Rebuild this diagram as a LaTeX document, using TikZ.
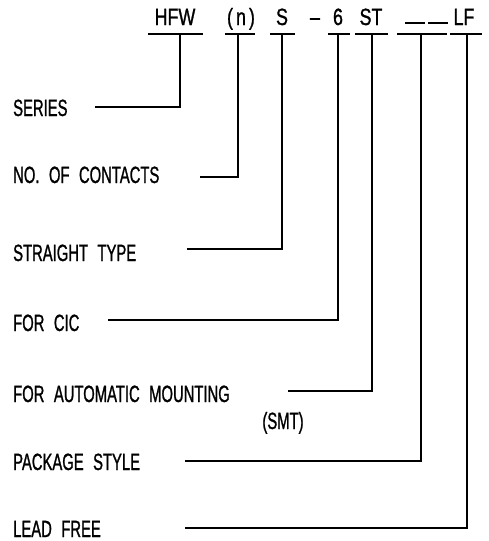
\documentclass[tikz,border=0pt]{standalone}
\usepackage{fontspec}
\newfontfamily\cad[FakeStretch=0.63,WordSpace=2.3,FakeBold=1]{Liberation Sans}
\newfontfamily\cadtop[FakeStretch=0.76,FakeBold=1]{Liberation Sans}
\begin{document}
\begin{tikzpicture}[x=1pt,y=-1pt,
  lbl/.style={anchor=base west,inner sep=0pt,font=\cad\fontsize{23.5}{25}\selectfont},
  code/.style={anchor=base,inner sep=0pt,font=\cadtop\fontsize{23.5}{25}\selectfont},
  ln/.style={line width=1.1pt}]
\useasboundingbox (0,0) rectangle (488,541);
% code row
\node[code] (hfw) at (175,25) {HFW};
\node[code] (n) at (241,25) {(\kern3pt n\kern3pt)};
\node[code] (s) at (282,25) {S};
\node[code] (dash) at (315,25) {–};
\node[code] (six) at (338,25) {6};
\node[code] (st) at (371,25) {ST};
\node[code] (lf) at (464,25) {LF};
\coordinate (b1a) at (405,23); \coordinate (b1b) at (425,23);
\coordinate (b2a) at (428,23); \coordinate (b2b) at (448,23);
\draw[ln] (b1a) -- (b1b);
\draw[ln] (b2a) -- (b2b);
% labels
\node[lbl] (series) at (13,116) {SERIES};
\node[lbl] (contacts) at (13,183) {NO. OF CONTACTS};
\node[lbl] (straight) at (13,261) {STRAIGHT TYPE};
\node[lbl] (cic) at (13,331) {FOR CIC};
\node[lbl] (auto) at (13,402) {FOR AUTOMATIC MOUNTING};
\node[anchor=base,inner sep=0pt,font=\cad\fontsize{23.5}{25}\selectfont] (smt) at (283,429) {(SMT)};
\node[lbl] (pkg) at (13,470) {PACKAGE STYLE};
\node[lbl] (lead) at (13,537) {LEAD FREE};
% underlines and leaders
\foreach \nm/\l/\r/\v/\s/\y in {
  a/148/203/180/95/107,
  b/225/255/238/200/177,
  c/270/295/282/187/249,
  d/328/350/338/108/320,
  e/355/388/372/288/391,
  f/397/447/421/185/461,
  g/450/482/467/185/528}{
  \coordinate (ul\nm) at (\l,34);
  \coordinate (ur\nm) at (\r,34);
  \coordinate (top\nm) at (\v,34);
  \coordinate (end\nm) at (\s,\y);
  \draw[ln] (ul\nm) -- (ur\nm);
  \draw[ln] (top\nm) |- (end\nm);
}
\end{tikzpicture}
\end{document}
